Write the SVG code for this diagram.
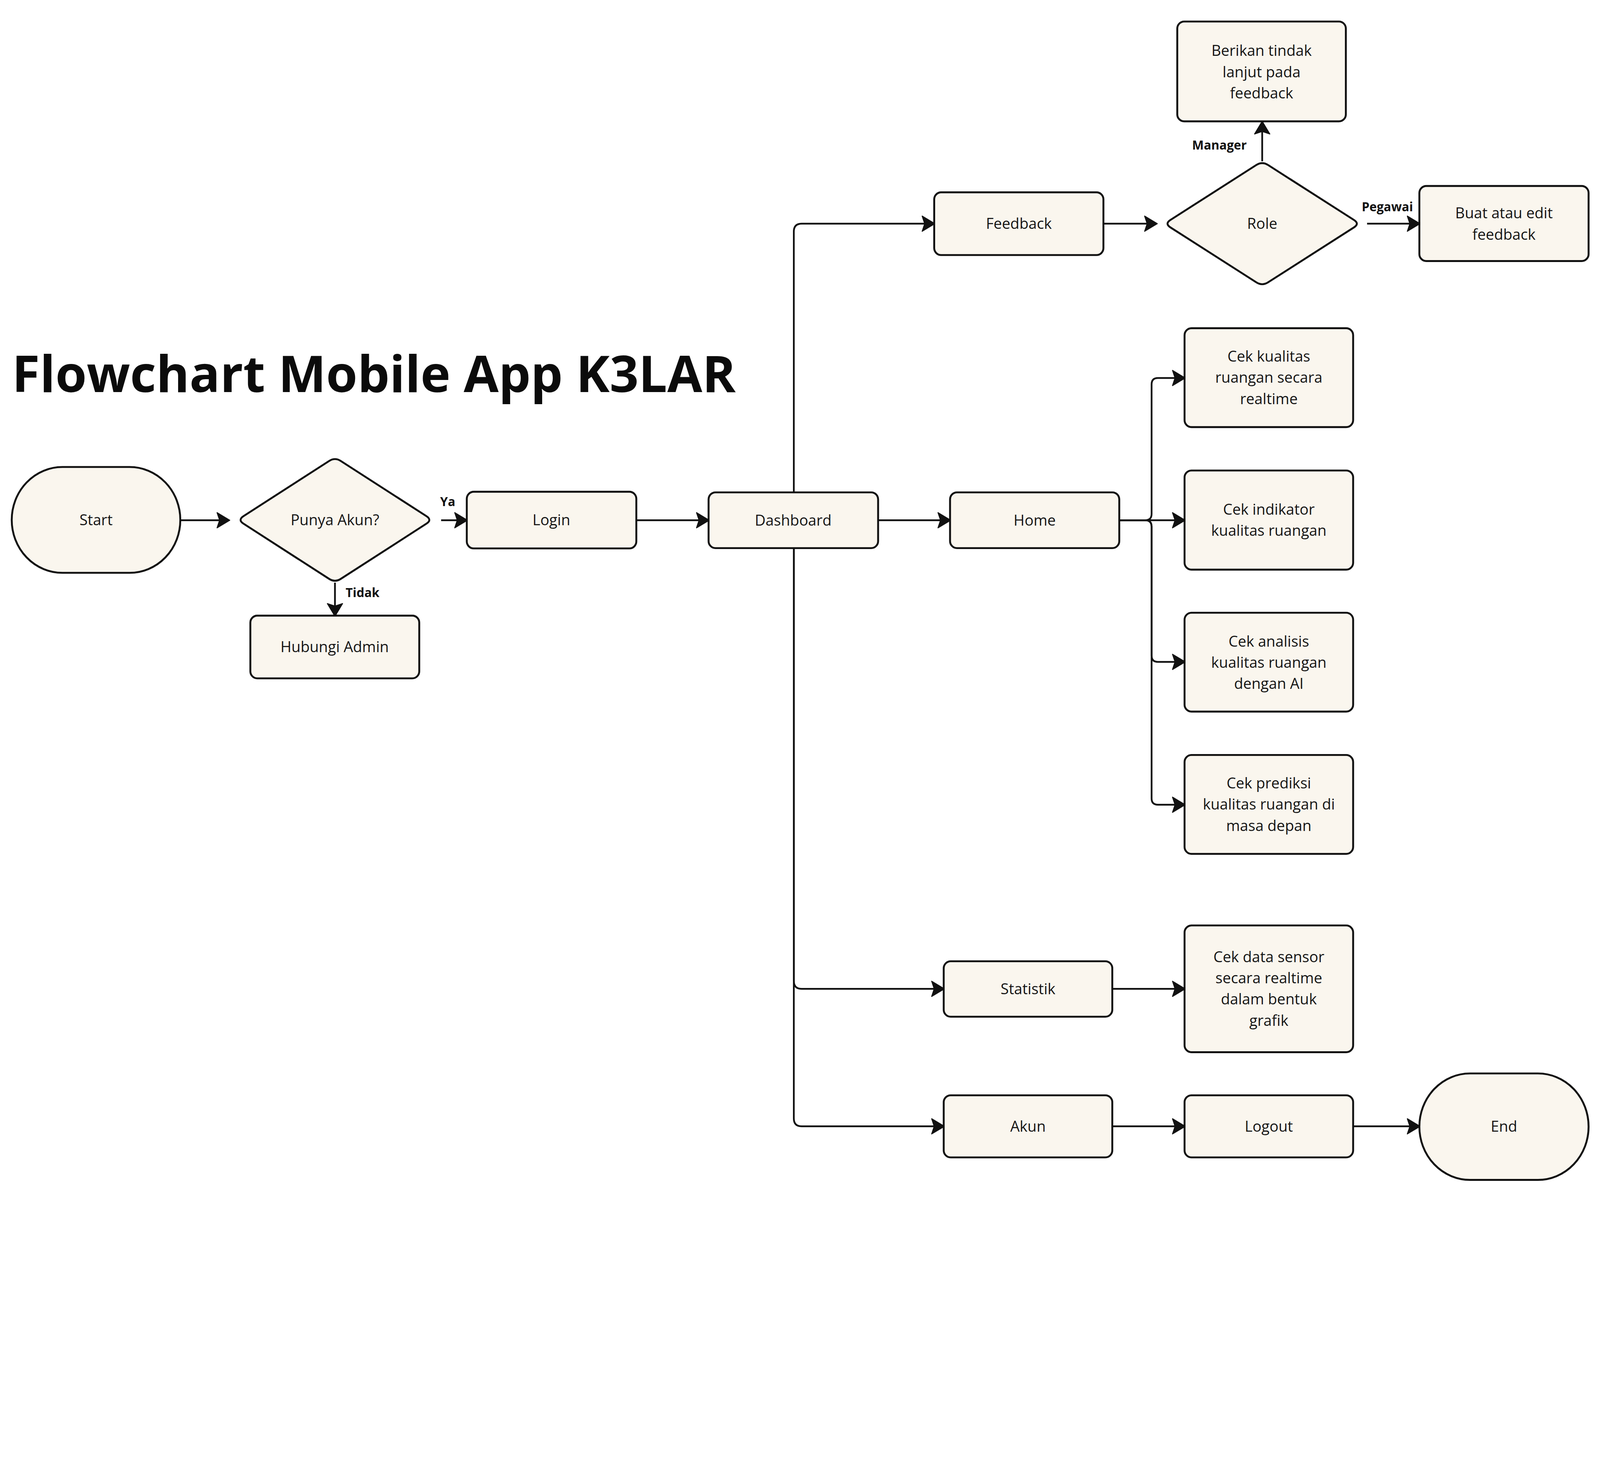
<svg xmlns="http://www.w3.org/2000/svg" width="5049" height="3790" viewBox="0 0 5049 3790">
<style>
svg:root{width:100vw;height:75.0644vw}
.box{fill:#FAF6EE;stroke:#111;stroke-width:6}
.t{font-family:"Open Sans","Noto Sans",sans-serif;font-size:47px;fill:#151515;text-anchor:middle;dominant-baseline:central}
.lbl{font-family:"Open Sans","Noto Sans",sans-serif;font-size:39px;font-weight:bold;fill:#111;text-anchor:middle;dominant-baseline:central}
.c{fill:none;stroke:#111;stroke-width:5.5;marker-end:url(#arr)}
.title{font-family:"Open Sans","Noto Sans",sans-serif;font-size:160px;font-weight:bold;fill:#0b0b0b}
</style>
<defs>
<marker id="arr" viewBox="0 0 46 52" refX="21" refY="26" markerWidth="46" markerHeight="52" markerUnits="userSpaceOnUse" orient="auto">
<path d="M3,2 L43,26 L3,50 L11,26 Z" fill="#111" stroke="#111" stroke-width="3" stroke-linejoin="round"/>
</marker>
</defs>
<rect width="5049" height="3790" fill="#fff"/>
<text class="title" x="38" y="1237">Flowchart Mobile App K3LAR</text>

<g id="connectors">
<path class="c" d="M569,1642 H703"/>
<path class="c" d="M1392,1642 H1453"/>
<path class="c" d="M1057,1839 V1923"/>
<path class="c" d="M2008,1642 H2216"/>
<path class="c" d="M2771,1642 H2978"/>
<path class="c" d="M2505,1555 V731 Q2505,706 2530,706 H2928"/>
<path class="c" d="M2505,1729 V3096 Q2505,3121 2530,3121 H2958"/>
<path class="c" d="M2505,1729 V3530 Q2505,3555 2530,3555 H2958"/>
<path class="c" d="M3482,706 H3630"/>
<path class="c" d="M3983,509 V405"/>
<path class="c" d="M4314,706 H4459"/>
<path class="c" d="M3532,1642 H3614 Q3634,1642 3634,1622 V1213 Q3634,1193 3654,1193 H3718"/>
<path class="c" d="M3532,1642 H3718"/>
<path class="c" d="M3532,1642 H3614 Q3634,1642 3634,1662 V2069 Q3634,2089 3654,2089 H3718"/>
<path class="c" d="M3532,1642 H3614 Q3634,1642 3634,1662 V2520 Q3634,2540 3654,2540 H3718"/>
<path class="c" d="M3510,3121 H3718"/>
<path class="c" d="M3510,3555 H3718"/>
<path class="c" d="M4270,3555 H4459"/>
<text class="lbl" x="1413" y="1582">Ya</text>
<text class="lbl" x="1144" y="1869">Tidak</text>
<text class="lbl" x="3848" y="457">Manager</text>
<text class="lbl" x="4378" y="651">Pegawai</text>
</g>

<g id="start"><rect class="box" x="37" y="1474" width="532" height="334" rx="160" ry="167"/><text class="t" x="303" y="1639">Start</text></g>
<g id="punya-akun"><path class="box" d="M768.4,1629.1 L1038.6,1454.9 Q1057,1443 1075.4,1454.9 L1345.6,1629.1 Q1364,1641 1345.6,1652.9 L1075.4,1827.1 Q1057,1839 1038.6,1827.1 L768.4,1652.9 Q750,1641 768.4,1629.1 Z"/><text class="t" x="1057" y="1639">Punya Akun?</text></g>
<g id="login"><rect class="box" x="1473" y="1552" width="535" height="179" rx="22"/><text class="t" x="1740" y="1639">Login</text></g>
<g id="hubungi-admin"><rect class="box" x="790" y="1943" width="533" height="198" rx="22"/><text class="t" x="1056" y="2040">Hubungi Admin</text></g>
<g id="dashboard"><rect class="box" x="2236" y="1554" width="535" height="176" rx="22"/><text class="t" x="2503" y="1640">Dashboard</text></g>
<g id="home"><rect class="box" x="2998" y="1554" width="534" height="176" rx="22"/><text class="t" x="3265" y="1640">Home</text></g>
<g id="feedback"><rect class="box" x="2948" y="607" width="534" height="198" rx="22"/><text class="t" x="3215" y="704">Feedback</text></g>
<g id="role"><path class="box" d="M3693.5,694.2 L3964.5,520.8 Q3983,509 4001.5,520.8 L4272.5,694.2 Q4291,706 4272.5,717.8 L4001.5,891.2 Q3983,903 3964.5,891.2 L3693.5,717.8 Q3675,706 3693.5,694.2 Z"/><text class="t" x="3983" y="704">Role</text></g>
<g id="berikan"><rect class="box" x="3715" y="68" width="532" height="315" rx="22"/><text class="t" x="3981" y="158">Berikan tindak</text><text class="t" x="3981" y="225">lanjut pada</text><text class="t" x="3981" y="292">feedback</text></g>
<g id="buat"><rect class="box" x="4479" y="587" width="534" height="237" rx="22"/><text class="t" x="4746" y="671">Buat atau edit</text><text class="t" x="4746" y="738">feedback</text></g>
<g id="cek-kualitas"><rect class="box" x="3738" y="1036" width="532" height="312" rx="22"/><text class="t" x="4004" y="1123">Cek kualitas</text><text class="t" x="4004" y="1190">ruangan secara</text><text class="t" x="4004" y="1257">realtime</text></g>
<g id="cek-indikator"><rect class="box" x="3738" y="1485" width="532" height="313" rx="22"/><text class="t" x="4004" y="1606">Cek indikator</text><text class="t" x="4004" y="1673">kualitas ruangan</text></g>
<g id="cek-analisis"><rect class="box" x="3738" y="1934" width="532" height="312" rx="22"/><text class="t" x="4004" y="2022">Cek analisis</text><text class="t" x="4004" y="2089">kualitas ruangan</text><text class="t" x="4004" y="2156">dengan AI</text></g>
<g id="cek-prediksi"><rect class="box" x="3738" y="2383" width="532" height="312" rx="22"/><text class="t" x="4004" y="2470">Cek prediksi</text><text class="t" x="4004" y="2537">kualitas ruangan di</text><text class="t" x="4004" y="2604">masa depan</text></g>
<g id="statistik"><rect class="box" x="2978" y="3034" width="532" height="175" rx="22"/><text class="t" x="3244" y="3119">Statistik</text></g>
<g id="cek-data"><rect class="box" x="3738" y="2921" width="532" height="400" rx="22"/><text class="t" x="4004" y="3018">Cek data sensor</text><text class="t" x="4004" y="3085">secara realtime</text><text class="t" x="4004" y="3152">dalam bentuk</text><text class="t" x="4004" y="3219">grafik</text></g>
<g id="akun"><rect class="box" x="2978" y="3457" width="532" height="196" rx="22"/><text class="t" x="3244" y="3553">Akun</text></g>
<g id="logout"><rect class="box" x="3738" y="3457" width="532" height="196" rx="22"/><text class="t" x="4004" y="3553">Logout</text></g>
<g id="end"><rect class="box" x="4479" y="3388" width="534" height="336" rx="160" ry="168"/><text class="t" x="4746" y="3553">End</text></g>
</svg>
